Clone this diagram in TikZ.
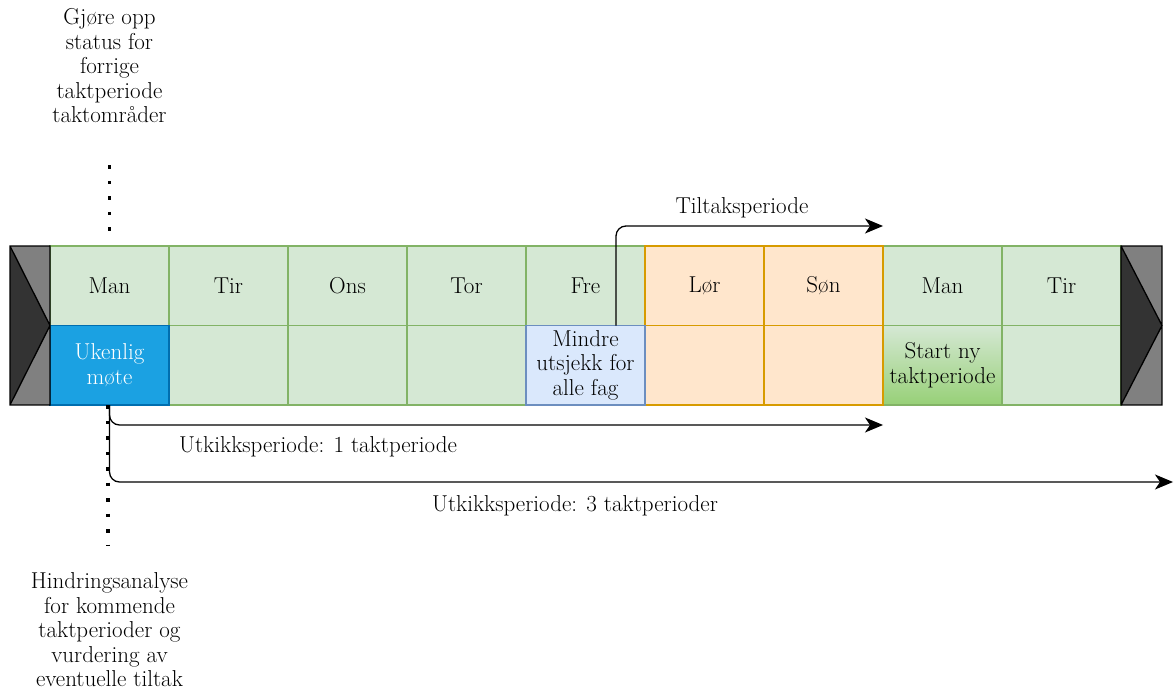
\documentclass[tikz,border=0pt]{standalone}
\usepackage{xcolor}
\usetikzlibrary{positioning, arrows.meta}

\definecolor{dayfill}{HTML}{D5E8D4}
\definecolor{dayline}{HTML}{82B366}
\definecolor{wkndfill}{HTML}{FFE6CC}
\definecolor{wkndline}{HTML}{D79B00}
\definecolor{checkfill}{HTML}{DAE8FC}
\definecolor{checkline}{HTML}{6C8EBF}
\definecolor{meetfill}{HTML}{1BA1E2}
\definecolor{meetline}{HTML}{006EAF}
\definecolor{startfill}{HTML}{97D077}
\definecolor{capgray}{HTML}{808080}
\definecolor{capdark}{HTML}{333333}

\begin{document}
\begin{tikzpicture}[x=1pt, y=-1pt, on grid, node distance=79.5pt and 119pt,
    font=\fontsize{23}{24.5}\selectfont,
    cell/.style={minimum width=119pt, minimum height=79.5pt, inner sep=0pt, outer sep=0pt, line width=1.3pt, align=center},
    day/.style={cell, draw=dayline, fill=dayfill},
    wknd/.style={cell, draw=wkndline, fill=wkndfill},
    flow/.style={->, >={Stealth[length=18pt, width=15pt, inset=5pt]}, line width=1.3pt, rounded corners=10pt},
    dots/.style={dash pattern=on 3.5pt off 12pt, line width=3.5pt},
    lbl/.style={inner sep=0pt, align=center}]
      \useasboundingbox (0,0) rectangle (1174,700);

      \node[day] (d1) at (109.5,285.75) {Man};
      \node[day] (d2) [right=of d1] {Tir};
      \node[day] (d3) [right=of d2] {Ons};
      \node[day] (d4) [right=of d3] {Tor};
      \node[day] (d5) [right=of d4] {Fre};
      \node[day] (d8) [right=of d5, xshift=238pt] {Man};
      \node[day] (d9) [right=of d8] {Tir};
      \node[day] (a2) [below=of d2] {};
      \node[day] (a3) [below=of d3] {};
      \node[day] (a4) [below=of d4] {};
      \node[day] (a9) [below=of d9] {};
      \node[cell, draw=dayline, top color=dayfill, bottom color=startfill] (a8) [below=of d8] {Start ny\\taktperiode};
      \node[wknd] (d6) [right=of d5] {L\o r};
      \node[wknd] (d7) [right=of d6] {S\o n};
      \node[wknd] (a6) [below=of d6] {};
      \node[wknd] (a7) [below=of d7] {};
      \node[cell, draw=checkline, fill=checkfill] (a5) [below=of d5] {Mindre\\utsjekk for\\alle fag};
      \node[cell, draw=meetline, fill=meetfill, text=white] (a1) [below=of d1] {Ukenlig\\m\o te};

      \fill[capgray] ([xshift=-40pt]d1.north west) rectangle (a1.south west);
      \fill[capdark] ([xshift=-40pt]d1.north west) -- (d1.south west) -- ([xshift=-40pt]a1.south west) -- cycle;
      \draw[line width=1.3pt] ([xshift=-40pt]d1.north west) rectangle (a1.south west)
            ([xshift=-40pt]d1.north west) -- (d1.south west) -- ([xshift=-40pt]a1.south west);
      \fill[capgray] (d9.north east) rectangle ([xshift=41pt]a9.south east);
      \fill[capdark] (d9.north east) -- ([xshift=41pt]d9.south east) -- (a9.south east) -- cycle;
      \draw[line width=1.3pt] (d9.north east) rectangle ([xshift=41pt]a9.south east)
            (d9.north east) -- ([xshift=41pt]d9.south east) -- (a9.south east);

      \node[lbl] (status) at (109.5,66) {Gj\o re opp\\status for\\forrige\\taktperiode\\taktomr\aa der};
      \node[lbl] (hindring) at (109.5,630) {Hindringsanalyse\\for kommende\\taktperioder og\\vurdering av\\eventuelle tiltak};
      \node[lbl] (tiltaklbl) at (742,208) {Tiltaksperiode};
      \node[lbl] (look1lbl) at (318,447) {Utkikksperiode: 1 taktperiode};
      \node[lbl] (look3lbl) at (575,506) {Utkikksperiode: 3 taktperioder};

      \coordinate (tiltak) at (883,226);
      \coordinate (look1) at (883,425);
      \coordinate (look3) at (1173,482);

      \draw[dots, shorten <=42pt, shorten >=11pt] (status) -- (d1);
      \draw[dots, shorten >=27pt] ([xshift=-1.5pt]a1.south) -- ([xshift=-1.5pt]hindring.north);
      \draw[flow] ([xshift=30.5pt]d5.south) |- (tiltak);
      \draw[flow] (a1.south) |- (look1);
      \draw[flow] (a1.south) |- (look3);
\end{tikzpicture}
\end{document}
